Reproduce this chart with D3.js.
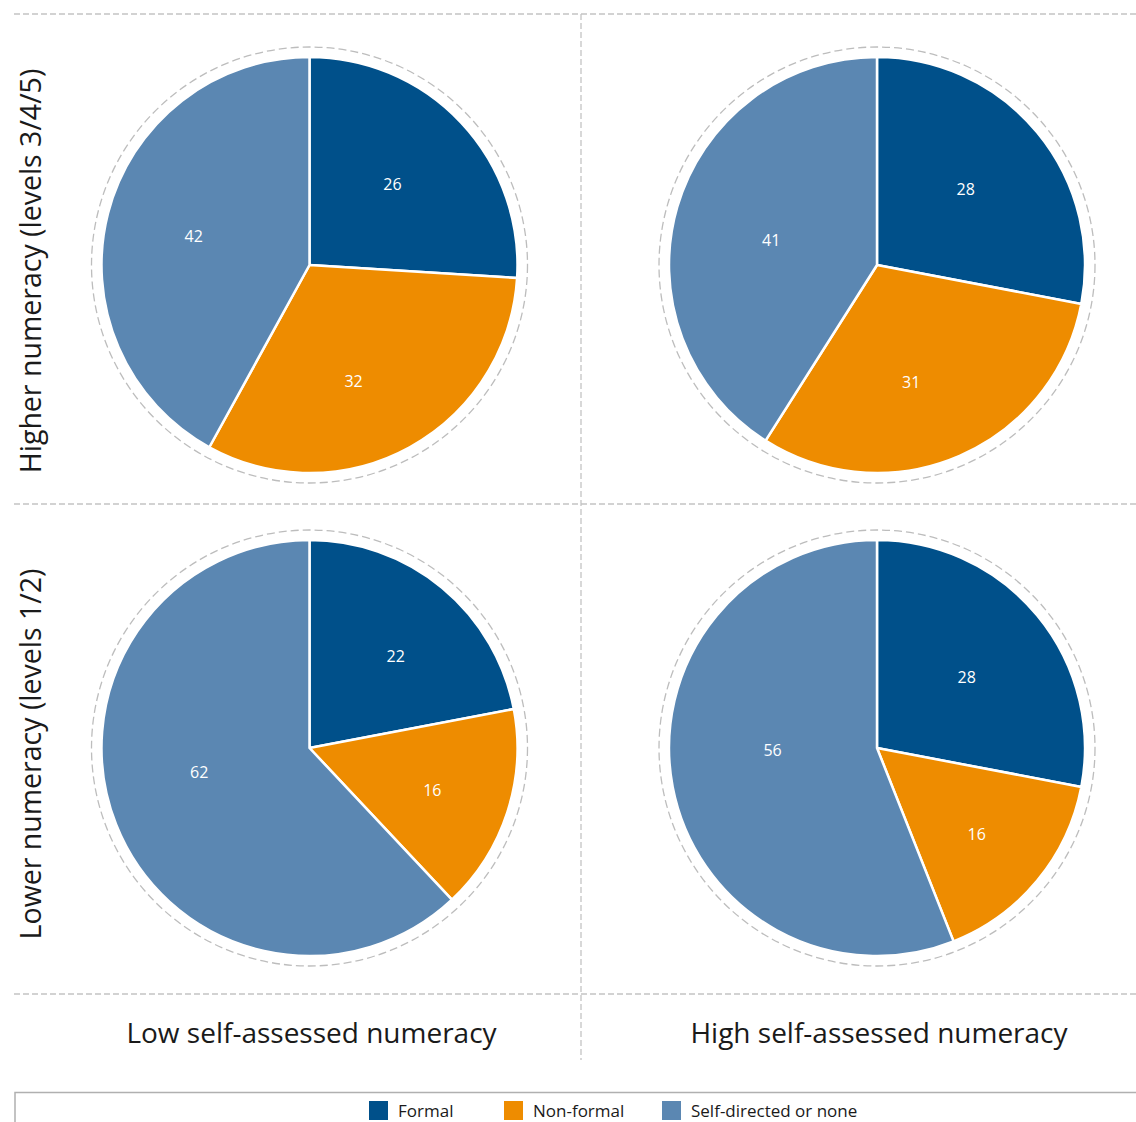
<!DOCTYPE html>
<html>
<head>
<meta charset="utf-8">
<script src="https://cdn.jsdelivr.net/npm/d3@7"></script>
<style>
  html, body { margin: 0; padding: 0; background: #fff; }
  svg { display: block; }
  text { font-family: "Open Sans", "DejaVu Sans", sans-serif; }
</style>
</head>
<body>
<svg id="chart" width="1136" height="1122"></svg>
<script>
// Training participation by numeracy and self-assessed numeracy (%)
const categories = ["Formal", "Non-formal", "Self-directed or none"];
const colors = ["#00508a", "#ee8c00", "#5b87b2"];
const columnLabels = ["Low self-assessed numeracy", "High self-assessed numeracy"];
const rowLabels = ["Higher numeracy (levels 3/4/5)", "Lower numeracy (levels 1/2)"];

const higherLow = [26, 32, 42];
const higherHigh = [28, 31, 41];
const lowerLow = [22, 16, 62];
const lowerHigh = [28, 16, 56];

// Small hand offsets (px) for the value labels, per slice
const labelNudge = [
  [[-2, -1], [-12, 14], [-3, 0]],
  [[-1, -1], [-12, 10], [6, 8]],
  [[12, -2], [12, 6], [-2, -18]],
  [[0, 4], [10, 12], [10, -19]]
];

const panels = [
  { row: 0, col: 0, values: higherLow },
  { row: 0, col: 1, values: higherHigh },
  { row: 1, col: 0, values: lowerLow },
  { row: 1, col: 1, values: lowerHigh }
];

const svg = d3.select("#chart");
const gridColor = "#c4c4c4";

const centersX = [309.5, 877];
const centersY = [265, 748];
const radius = 208;

// Dashed separators
const grid = svg.append("g").attr("stroke", gridColor).attr("stroke-width", 1.3)
  .attr("stroke-dasharray", "6,3").attr("fill", "none");
[14, 504, 994].forEach(y => {
  grid.append("line").attr("x1", 14).attr("x2", 1136).attr("y1", y).attr("y2", y);
});
grid.append("line").attr("x1", 581).attr("x2", 581).attr("y1", 14).attr("y2", 1060);

const pie = d3.pie().sort(null).value(d => d);
const arc = d3.arc().innerRadius(0).outerRadius(radius);
const labelArc = d3.arc().innerRadius(radius * 0.56).outerRadius(radius * 0.56);

panels.forEach((p, pi) => {
  const g = svg.append("g")
    .attr("transform", `translate(${centersX[p.col]},${centersY[p.row]})`);

  g.append("circle")
    .attr("r", radius + 10)
    .attr("fill", "none")
    .attr("stroke", "#bdbdbd")
    .attr("stroke-width", 1.3)
    .attr("stroke-dasharray", "8,4");

  const arcs = pie(p.values);
  g.selectAll("path.slice")
    .data(arcs)
    .join("path")
    .attr("class", "slice")
    .attr("d", arc)
    .attr("fill", (d, i) => colors[i])
    .attr("stroke", "#fff")
    .attr("stroke-width", 2.5)
    .attr("stroke-linejoin", "round");

  g.selectAll("text.val")
    .data(arcs)
    .join("text")
    .attr("class", "val")
    .attr("transform", (d, i) => {
      const [cx, cy] = labelArc.centroid(d);
      const [nx, ny] = labelNudge[pi][i];
      return `translate(${cx + nx},${cy + ny})`;
    })
    .attr("text-anchor", "middle")
    .attr("dy", "0.35em")
    .attr("fill", "#fff")
    .attr("font-size", 16)
    .text(d => d.data);
});

// Row labels (rotated)
rowLabels.forEach((t, i) => {
  svg.append("text")
    .attr("transform", `translate(41,${centersY[i] + 6}) rotate(-90)`)
    .attr("text-anchor", "middle")
    .attr("font-size", 28.5)
    .attr("fill", "#1a1a1a")
    .text(t);
});

// Column labels
columnLabels.forEach((t, i) => {
  svg.append("text")
    .attr("x", centersX[i] + 2)
    .attr("y", 1043)
    .attr("text-anchor", "middle")
    .attr("font-size", 28)
    .attr("fill", "#1a1a1a")
    .text(t);
});

// Legend
const legend = svg.append("g");
legend.append("path")
  .attr("d", "M15,1122 V1092.5 H1136")
  .attr("fill", "none")
  .attr("stroke", "#b0b0b0")
  .attr("stroke-width", 1.5);

const legendX = [369, 504, 662];
categories.forEach((c, i) => {
  legend.append("rect")
    .attr("x", legendX[i]).attr("y", 1101)
    .attr("width", 19).attr("height", 19)
    .attr("fill", colors[i]);
  legend.append("text")
    .attr("x", legendX[i] + 29).attr("y", 1117)
    .attr("font-size", 17)
    .attr("fill", "#1a1a1a")
    .text(c);
});
</script>
</body>
</html>
